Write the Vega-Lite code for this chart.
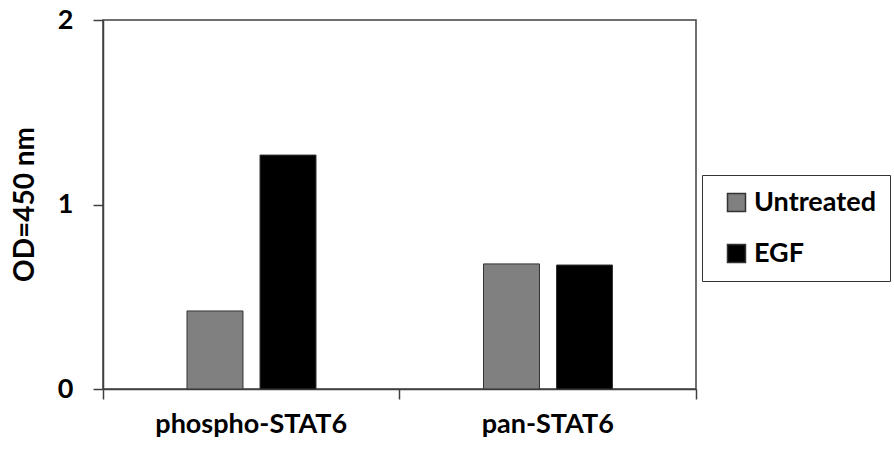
{
  "$schema": "https://vega.github.io/schema/vega-lite/v6.json",
  "autosize": {"type": "none"},
  "width": 593,
  "height": 369,
  "padding": {"left": 103, "top": 20, "right": 198, "bottom": 62},
  "background": "#ffffff",
  "data": {
    "values": [
      {"target": "phospho-STAT6", "treatment": "Untreated", "od": 0.423},
      {"target": "phospho-STAT6", "treatment": "EGF", "od": 1.268},
      {"target": "pan-STAT6", "treatment": "Untreated", "od": 0.678},
      {"target": "pan-STAT6", "treatment": "EGF", "od": 0.672}
    ]
  },
  "mark": {"type": "bar", "stroke": "#333333", "strokeWidth": 1},
  "encoding": {
    "x": {
      "field": "target",
      "type": "nominal",
      "sort": ["phospho-STAT6", "pan-STAT6"],
      "scale": {"paddingInner": 0, "paddingOuter": 0},
      "axis": {
        "title": null,
        "labelAngle": 0,
        "bandPosition": 1,
        "tickExtra": true,
        "labelLimit": 0,
        "labelFont": "Lato",
        "labelFontWeight": "bold",
        "labelFontSize": 27,
        "labelColor": "#000000",
        "labelPadding": 12,
        "tickSize": 10,
        "tickColor": "#404040",
        "tickWidth": 1.5,
        "domainColor": "#404040",
        "domainWidth": 1.5
      }
    },
    "xOffset": {
      "field": "treatment",
      "type": "nominal",
      "sort": ["Untreated", "EGF"],
      "scale": {"paddingInner": 0.233, "paddingOuter": 0, "range": [84, 213]}
    },
    "y": {
      "field": "od",
      "type": "quantitative",
      "scale": {"domain": [0, 2], "nice": false},
      "axis": {
        "title": "OD=450 nm",
        "values": [0, 1, 2],
        "labelExpr": "format(datum.value, 'd')",
        "labelOverlap": false,
        "grid": false,
        "labelFont": "Lato",
        "labelFontWeight": "bold",
        "labelFontSize": 27,
        "labelColor": "#000000",
        "labelPadding": 20,
        "tickSize": 10,
        "tickColor": "#404040",
        "tickWidth": 1.5,
        "domainColor": "#404040",
        "domainWidth": 1.5,
        "titleFont": "Lato",
        "titleFontWeight": "bold",
        "titleFontSize": 28,
        "titleColor": "#000000",
        "titleX": -70,
        "titleY": 184,
        "titleAngle": -90,
        "titleAlign": "center",
        "titleBaseline": "alphabetic"
      }
    },
    "color": {
      "field": "treatment",
      "type": "nominal",
      "scale": {"domain": ["Untreated", "EGF"], "range": ["#808080", "#000000"]},
      "legend": {
        "title": null,
        "orient": "none",
        "legendX": 599,
        "legendY": 155,
        "symbolType": "square",
        "symbolSize": 324,
        "symbolStrokeColor": "#333333",
        "symbolStrokeWidth": 1.5,
        "symbolOffset": 7,
        "labelFont": "Lato",
        "labelFontWeight": "bold",
        "labelFontSize": 27,
        "labelColor": "#000000",
        "labelOffset": 4,
        "labelLimit": 0,
        "rowPadding": 23,
        "padding": 14,
        "strokeColor": "#333333",
        "fillColor": "#ffffff"
      }
    }
  },
  "config": {
    "view": {"stroke": "#404040", "strokeWidth": 1.5}
  }
}
